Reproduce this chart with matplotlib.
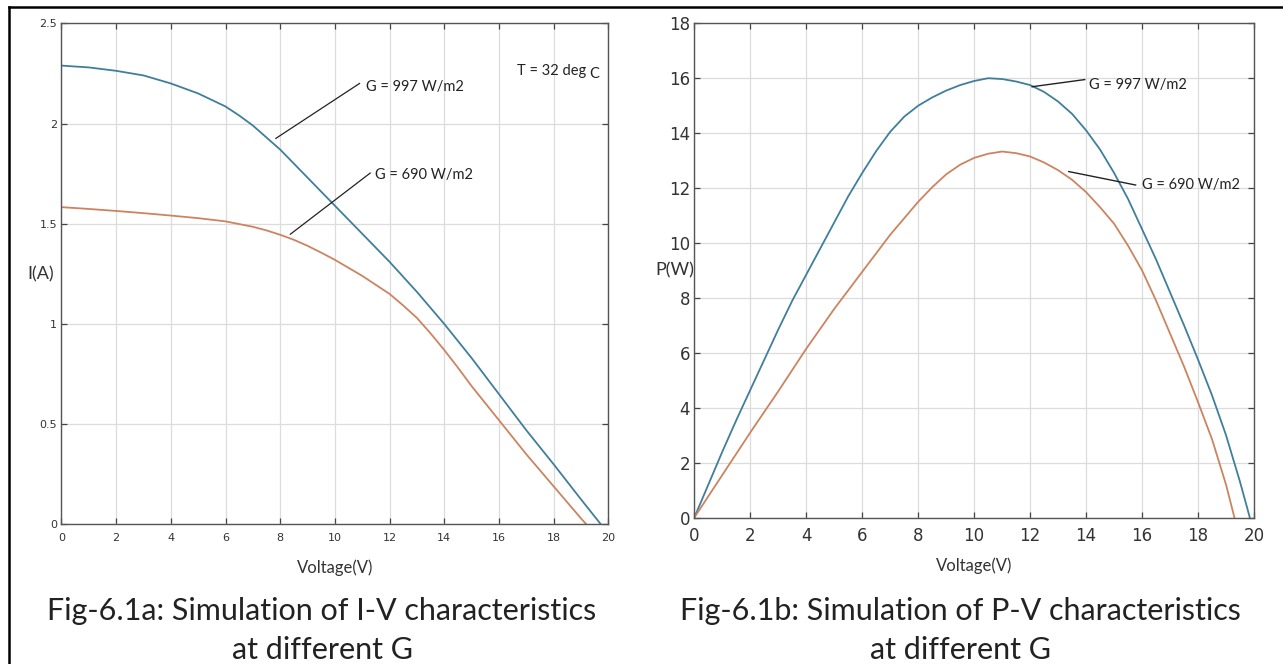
import numpy as np
import matplotlib
matplotlib.use("Agg")
import matplotlib.pyplot as plt
from matplotlib.lines import Line2D

iv_v_997 = [0, 1, 2, 3, 4, 5, 6, 6.5, 7, 7.5, 8, 8.5, 9, 9.5, 10, 10.5, 11, 11.5, 12,
            12.5, 13, 14, 15, 16, 17, 18, 19, 19.73]
iv_i_997 = [2.289, 2.28, 2.263, 2.24, 2.20, 2.15, 2.085, 2.04, 1.99, 1.93, 1.87, 1.80,
            1.73, 1.66, 1.59, 1.52, 1.45, 1.38, 1.31, 1.235, 1.16, 1.0, 0.83, 0.65,
            0.47, 0.30, 0.125, 0.0]
iv_v_690 = [0, 1, 2, 3, 4, 5, 6, 7, 7.5, 8, 8.5, 9, 9.5, 10, 10.5, 11, 11.5, 12, 12.5,
            13, 13.5, 14, 14.5, 15, 16, 17, 18, 19, 19.2]
iv_i_690 = [1.583, 1.574, 1.564, 1.553, 1.541, 1.528, 1.512, 1.485, 1.467, 1.445, 1.42,
            1.39, 1.356, 1.32, 1.28, 1.24, 1.195, 1.15, 1.092, 1.03, 0.953, 0.87, 0.782,
            0.69, 0.52, 0.35, 0.19, 0.03, 0.0]

pv_v_997 = [0, 0.5, 1, 1.5, 2, 2.5, 3, 3.5, 4, 4.5, 5, 5.5, 6, 6.5, 7, 7.5, 8, 8.5, 9,
            9.5, 10, 10.5, 11, 11.5, 12, 12.5, 13, 13.5, 14, 14.5, 15, 15.5, 16, 16.5,
            17, 17.5, 18, 18.5, 19, 19.5, 19.85]
pv_p_997 = [0, 1.2, 2.4, 3.55, 4.65, 5.75, 6.85, 7.9, 8.85, 9.8, 10.75, 11.7, 12.55,
            13.35, 14.05, 14.6, 15.0, 15.3, 15.55, 15.75, 15.9, 16.0, 15.97, 15.88,
            15.75, 15.5, 15.15, 14.7, 14.1, 13.4, 12.55, 11.6, 10.5, 9.4, 8.2, 7.0,
            5.75, 4.45, 3.0, 1.3, 0]
pv_v_690 = [0, 1, 2, 3, 4, 5, 6, 7, 8, 8.5, 9, 9.5, 10, 10.5, 11, 11.5, 12, 12.5, 13,
            13.5, 14, 14.5, 15, 15.5, 16, 16.5, 17, 17.5, 18, 18.5, 19, 19.3]
pv_p_690 = [0, 1.55, 3.1, 4.6, 6.15, 7.6, 8.95, 10.3, 11.5, 12.03, 12.5, 12.85, 13.1,
            13.25, 13.33, 13.27, 13.15, 12.93, 12.65, 12.3, 11.85, 11.3, 10.7, 9.9,
            9.0, 7.9, 6.7, 5.5, 4.2, 2.85, 1.2, 0]

v_ticks = list(range(0, 21, 2))
i_ticks = [0, 0.5, 1, 1.5, 2, 2.5]
i_ticklabels = ["0", "0.5", "1", "1.5", "2", "2.5"]
p_ticks = list(range(0, 19, 2))

blue = "#3f7f9c"
red = "#cc8460"
txt_font = ["Liberation Sans Narrow", "Lato", "DejaVu Sans"]
cap_font = ["Lato", "DejaVu Sans"]

fig = plt.figure(figsize=(12.83, 6.64), dpi=100)


def style_axes(ax, tick_size, xpad):
    ax.set_xlim(0, 20)
    ax.set_xticks(v_ticks)
    ax.grid(True, color="#dcdcdc", linewidth=0.9)
    ax.set_axisbelow(True)
    ax.tick_params(direction="in", top=True, right=True, length=4, width=0.9,
                   colors="#444444", labelsize=tick_size, pad=3)
    ax.tick_params(axis="x", pad=xpad)
    for s in ax.spines.values():
        s.set_color("#555555")
        s.set_linewidth(1.0)
    for lab in ax.get_xticklabels() + ax.get_yticklabels():
        lab.set_color("#333333")


# --- left: I-V ---
ax1 = fig.add_axes([0.0479, 0.2101, 0.4263, 0.7548])
ax1.plot(iv_v_997, iv_i_997, color=blue, lw=1.3)
ax1.plot(iv_v_690, iv_i_690, color=red, lw=1.3)
ax1.set_ylim(0, 2.5)
ax1.set_yticks(i_ticks)
ax1.set_yticklabels(i_ticklabels)
style_axes(ax1, 8, 6)
ax1.set_xlabel("Voltage(V)", fontsize=12, family=txt_font, color="#333333", labelpad=12)
ax1.set_ylabel("I(A)", fontsize=13, family=txt_font, color="#333333", rotation=0,
               va="center", ha="center")
ax1.yaxis.set_label_coords(-0.038, 0.5)

ax1.plot([7.84, 10.9], [1.926, 2.20], color="#222222", lw=0.9)
ax1.plot([8.37, 11.29], [1.448, 1.753], color="#222222", lw=0.9)
ax1.text(11.13, 2.181, "G = 997 W/m2", fontsize=10.5, family=txt_font, va="center", color="#222222")
ax1.text(11.45, 1.744, "G = 690 W/m2", fontsize=10.5, family=txt_font, va="center", color="#222222")
ax1.text(16.67, 2.263, "T = 32 deg", fontsize=10.5, family=txt_font, va="center", color="#222222")
ax1.text(19.3, 2.245, "C", fontsize=10.5, family=txt_font, va="center", color="#222222")

# --- right: P-V ---
ax2 = fig.add_axes([0.5412, 0.2206, 0.4362, 0.7443])
ax2.plot(pv_v_997, pv_p_997, color=blue, lw=1.3)
ax2.plot(pv_v_690, pv_p_690, color=red, lw=1.3)
ax2.set_ylim(0, 18)
ax2.set_yticks(p_ticks)
style_axes(ax2, 12, 7)
ax2.set_xlabel("Voltage(V)", fontsize=12, family=txt_font, color="#333333", labelpad=9)
ax2.set_ylabel("P(W)", fontsize=13, family=txt_font, color="#333333", rotation=0,
               va="center", ha="right")
ax2.yaxis.set_label_coords(0.0, 0.5)

ax2.plot([12.07, 13.95], [15.69, 15.95], color="#222222", lw=1.0)
ax2.plot([13.38, 15.77], [12.6, 12.11], color="#222222", lw=1.0)
ax2.text(14.1, 15.76, "G = 997 W/m2", fontsize=10.5, family=txt_font, va="center", color="#222222")
ax2.text(16.0, 12.11, "G = 690 W/m2", fontsize=10.5, family=txt_font, va="center", color="#222222")

# captions
fig.text(322 / 1283, 1 - 611 / 664, "Fig-6.1a: Simulation of I-V characteristics",
         ha="center", va="center", fontsize=22, family=cap_font, color="#222222")
fig.text(322 / 1283, 1 - 650 / 664, "at different G",
         ha="center", va="center", fontsize=22, family=cap_font, color="#222222")
fig.text(960 / 1283, 1 - 611 / 664, "Fig-6.1b: Simulation of P-V characteristics",
         ha="center", va="center", fontsize=22, family=cap_font, color="#222222")
fig.text(960 / 1283, 1 - 650 / 664, "at different G",
         ha="center", va="center", fontsize=22, family=cap_font, color="#222222")

# table-cell frame
fig.add_artist(Line2D([9 / 1283, 1], [1 - 7 / 664, 1 - 7 / 664], color="black", lw=1.8))
fig.add_artist(Line2D([9 / 1283, 9 / 1283], [0, 1 - 7 / 664], color="black", lw=1.8))

fig.savefig("out.png", dpi=100)
